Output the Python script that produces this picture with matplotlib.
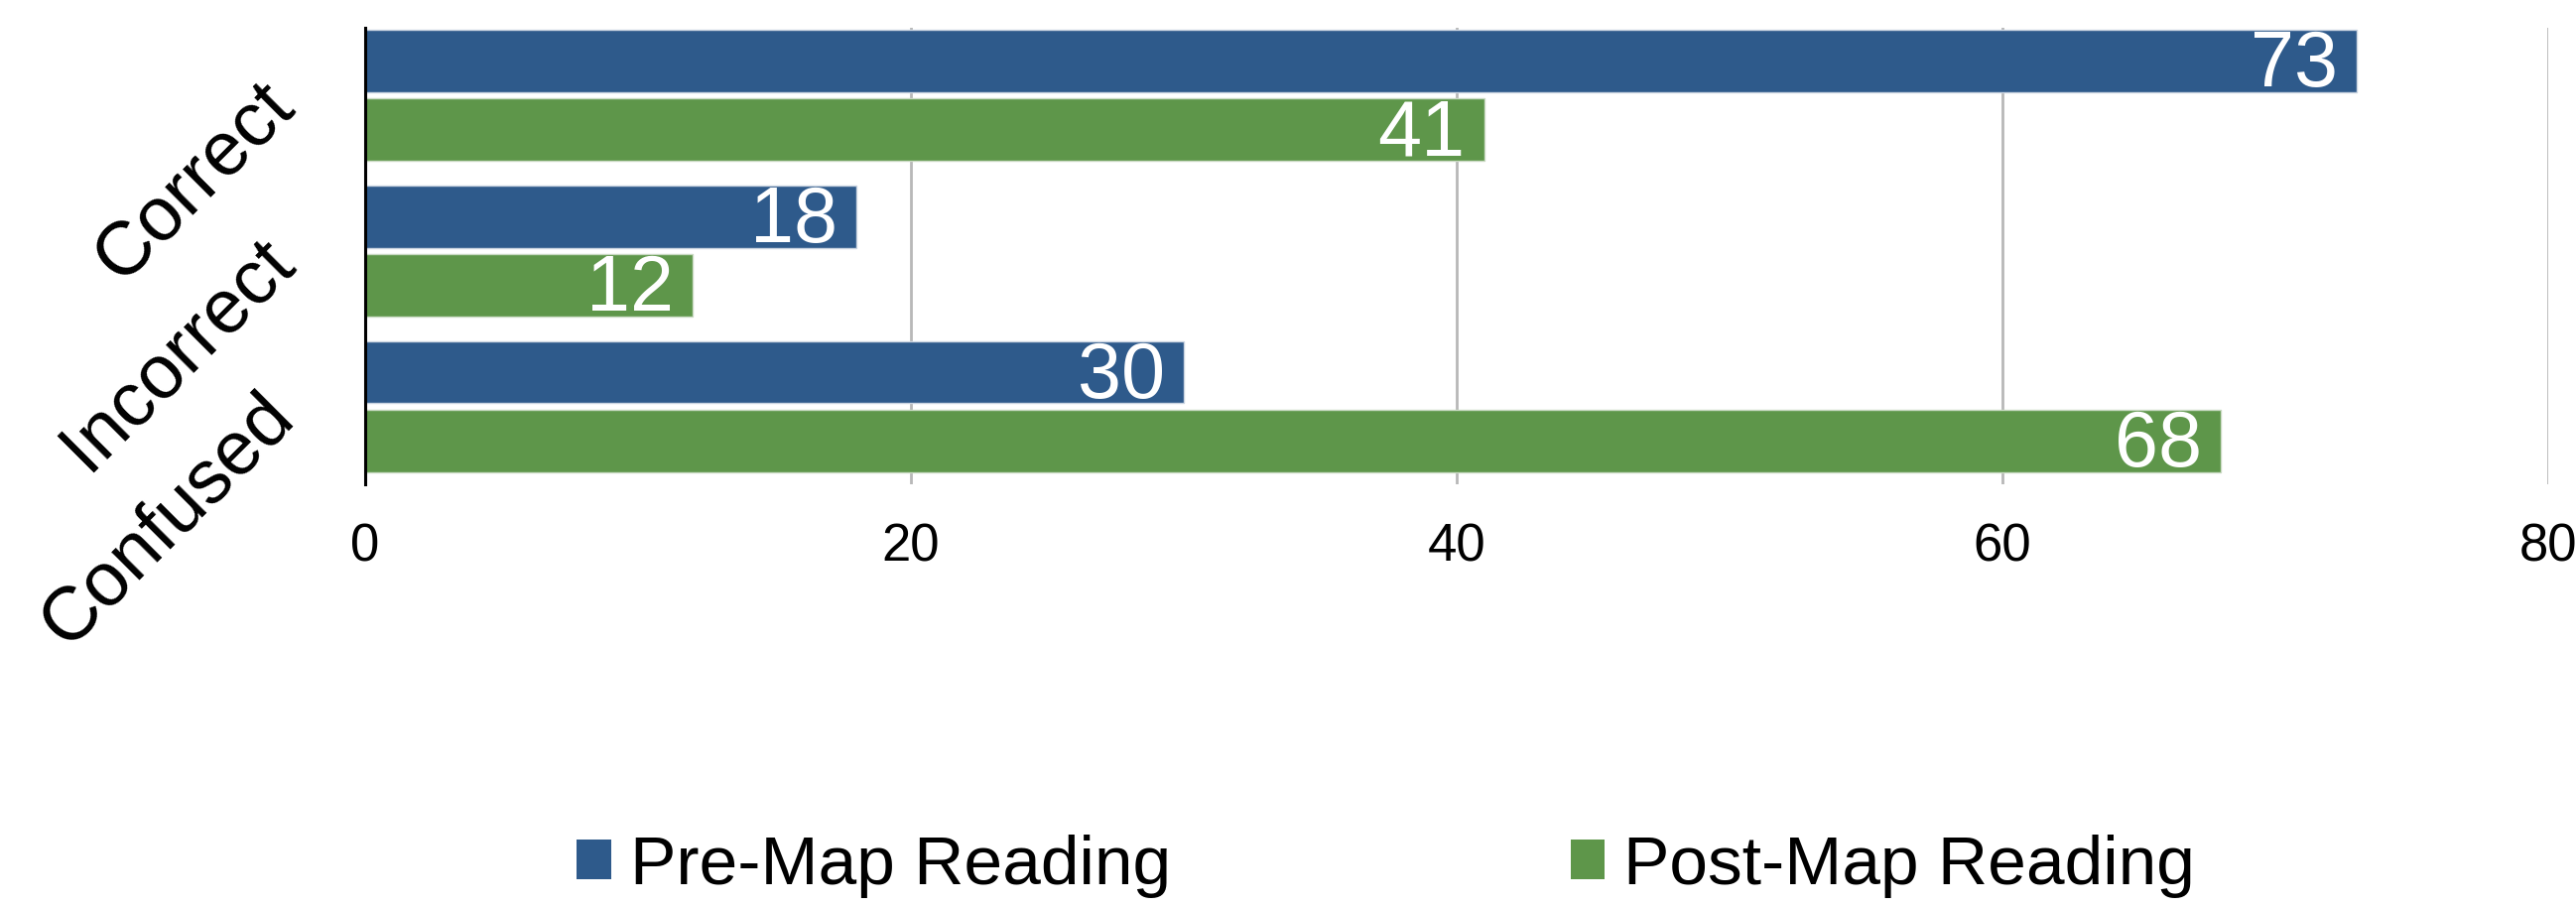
import numpy as np
import matplotlib.pyplot as plt
from matplotlib.patches import Patch

plt.rcParams['font.family'] = ['Liberation Sans', 'DejaVu Sans']

# data
categories = ["Correct", "Incorrect", "Confused"]
pre_map = [73, 18, 30]
post_map = [41, 12, 68]
series_names = ["Pre-Map Reading", "Post-Map Reading"]
xticks = [0, 20, 40, 60, 80]

blue = '#2E5A8B'
green = '#5E964A'

fig = plt.figure(figsize=(25.96, 9.14), dpi=100)
ax = fig.add_axes([0.1418, 0.466, 0.8474, 0.503])

y = np.arange(len(categories))
h = 0.40
off = 0.22

b1 = ax.barh(y - off, pre_map, height=h, color=blue, edgecolor='#C9D3E0', linewidth=1.0, zorder=3)
b2 = ax.barh(y + off, post_map, height=h, color=green, edgecolor='#C9D9C2', linewidth=1.0, zorder=3)

# value labels inside bar ends
for bars, vals in [(b1, pre_map), (b2, post_map)]:
    for bar, v in zip(bars, vals):
        ax.text(v - 0.7, bar.get_y() + bar.get_height() / 2 + 0.035, str(v),
                ha='right', va='center', color='white', fontsize=57, zorder=4)

ax.set_xlim(0, 80)
ax.set_ylim(2.5, -0.43)
ax.set_xticks(xticks)
ax.set_yticks(y)
ax.set_yticklabels(categories, rotation=45, ha='right', va='center',
                   rotation_mode='anchor', fontsize=55)
ax.tick_params(axis='y', length=0, pad=60)
ax.tick_params(axis='x', length=0, pad=28, labelsize=38)

ax.grid(axis='x', color='#B8B8B8', linewidth=2.0, zorder=0)
ax.set_axisbelow(True)
for s in ['top', 'right', 'bottom']:
    ax.spines[s].set_visible(False)
ax.spines['left'].set_linewidth(2.2)
ax.spines['left'].set_zorder(5)

handles = [Patch(facecolor=blue), Patch(facecolor=green)]
fig.legend(handles, series_names, loc='center', bbox_to_anchor=(0.538, 0.045),
           ncol=2, frameon=False, fontsize=50, handlelength=0.5, handleheight=0.5,
           handletextpad=0.27, columnspacing=5.8)

plt.savefig('out.png', dpi=100)
